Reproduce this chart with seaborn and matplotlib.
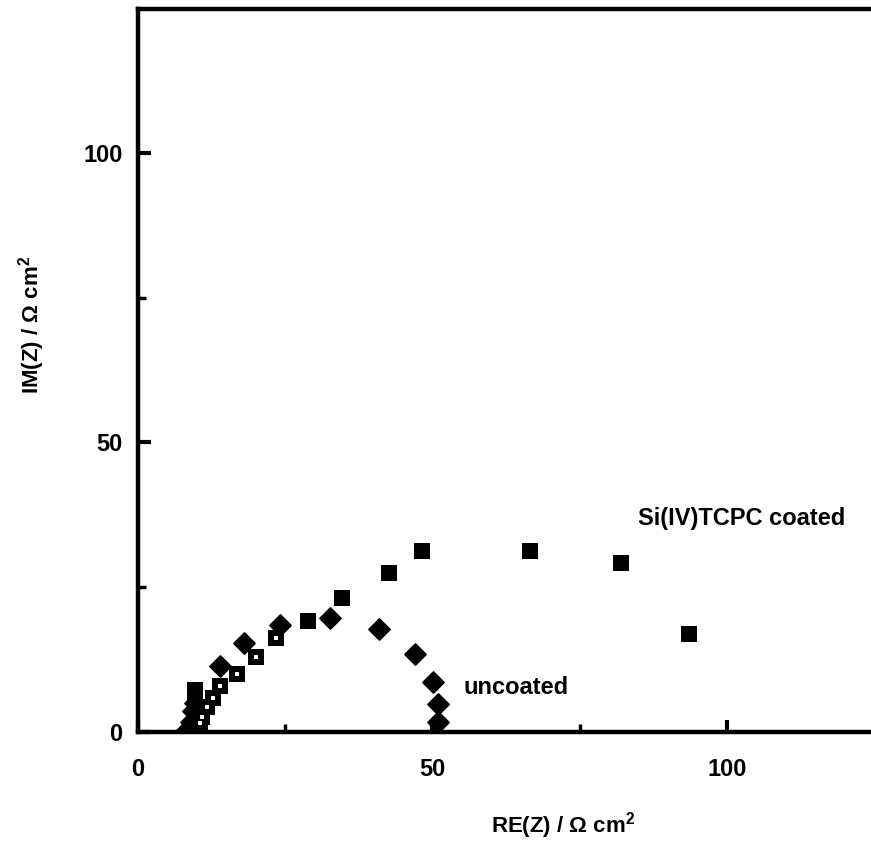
import matplotlib
matplotlib.use("Agg")
import matplotlib.pyplot as plt
import seaborn as sns
import numpy as np
import pandas as pd
from matplotlib.ticker import MultipleLocator

# ---- data ----
uncoated_re = [8.3, 9.0, 9.4, 9.6, 14.0, 18.0, 24.1, 32.6, 40.9, 47.0, 50.1, 51.0, 51.0]
uncoated_im = [0.4, 1.8, 3.6, 5.0, 11.4, 15.3, 18.5, 19.6, 17.8, 13.4, 8.7, 4.8, 1.8]

coated_re = [9.6, 9.7, 9.8, 10.5, 10.8, 11.7, 12.7, 13.9, 16.8, 20.0, 23.5,
             28.9, 34.7, 42.6, 48.3, 66.5, 82.1, 93.6]
coated_im = [7.3, 5.6, 4.2, 1.5, 2.6, 4.4, 5.8, 7.9, 10.0, 13.0, 16.2,
             19.2, 23.1, 27.4, 31.3, 31.3, 29.1, 16.9]

x_ticks = [0, 50, 100]
y_ticks = [0, 50, 100]
x_label = "RE(Z) / Ω cm$^{\\mathbf{2}}$"
y_label = "IM(Z) / Ω cm$^{\\mathbf{2}}$"
label_coated = "Si(IV)TCPC coated"
label_uncoated = "uncoated"

sns.set_theme(style="white")
plt.rcParams['font.family'] = ['Liberation Sans', 'DejaVu Sans']
plt.rcParams['font.weight'] = 'bold'
plt.rcParams['text.color'] = 'black'
plt.rcParams['axes.labelcolor'] = 'black'
plt.rcParams['xtick.color'] = 'black'
plt.rcParams['ytick.color'] = 'black'
plt.rcParams['mathtext.fontset'] = 'custom'
plt.rcParams['mathtext.bf'] = 'Liberation Sans:bold'
plt.rcParams['mathtext.rm'] = 'Liberation Sans:bold'

fig = plt.figure(figsize=(8.71, 8.61), dpi=100)
ax = fig.add_axes([138 / 871, 129 / 861, 736 / 871, 723 / 861])

df_u = pd.DataFrame({"re": uncoated_re, "im": uncoated_im})
df_c = pd.DataFrame({"re": coated_re, "im": coated_im})

sns.scatterplot(data=df_c, x="re", y="im", marker="s", s=130, color="black",
                edgecolor="black", linewidth=0, ax=ax, zorder=3)
hollow = df_c[(df_c["re"] > 10) & (df_c["re"] < 25)]
sns.scatterplot(data=hollow, x="re", y="im", marker="s", s=12, color="white",
                edgecolor="white", linewidth=0, ax=ax, zorder=4)
sns.scatterplot(data=df_u, x="re", y="im", marker="D", s=110, color="black",
                edgecolor="black", linewidth=1.5, ax=ax, zorder=3)

ax.set_xlim(0, 125)
ax.set_ylim(0, 124.8)
ax.set_xticks(x_ticks)
ax.set_yticks(y_ticks)
ax.xaxis.set_minor_locator(MultipleLocator(25))
ax.yaxis.set_minor_locator(MultipleLocator(25))
ax.tick_params(which="major", direction="in", length=9, width=3, labelsize=17,
               colors="black")
ax.tick_params(axis="x", which="major", pad=19)
ax.tick_params(axis="y", which="major", pad=11)
ax.tick_params(which="minor", direction="in", length=6, width=2.5)
ax.tick_params(axis="both", which="both", bottom=True, left=True, top=False, right=False)
for lab in ax.get_xticklabels() + ax.get_yticklabels():
    lab.set_fontweight("bold")

for sp in ax.spines.values():
    sp.set_linewidth(3.2)
    sp.set_color("black")
ax.spines["right"].set_visible(False)

ax.set_xlabel(x_label, fontsize=16, fontweight="bold", va="center", ha="center")
ax.set_ylabel(y_label, fontsize=16, fontweight="bold", va="center", ha="center")
ax.xaxis.set_label_coords((563 - 138) / 736, (732 - 826) / 723)
ax.yaxis.set_label_coords((32 - 138) / 736, (732 - 325) / 723)

ax.text(84.9, 36.8, label_coated, fontsize=17, fontweight="bold", va="center", ha="left")
ax.text(55.3, 7.6, label_uncoated, fontsize=17, fontweight="bold", va="center", ha="left")

fig.savefig("out.png", dpi=100)
